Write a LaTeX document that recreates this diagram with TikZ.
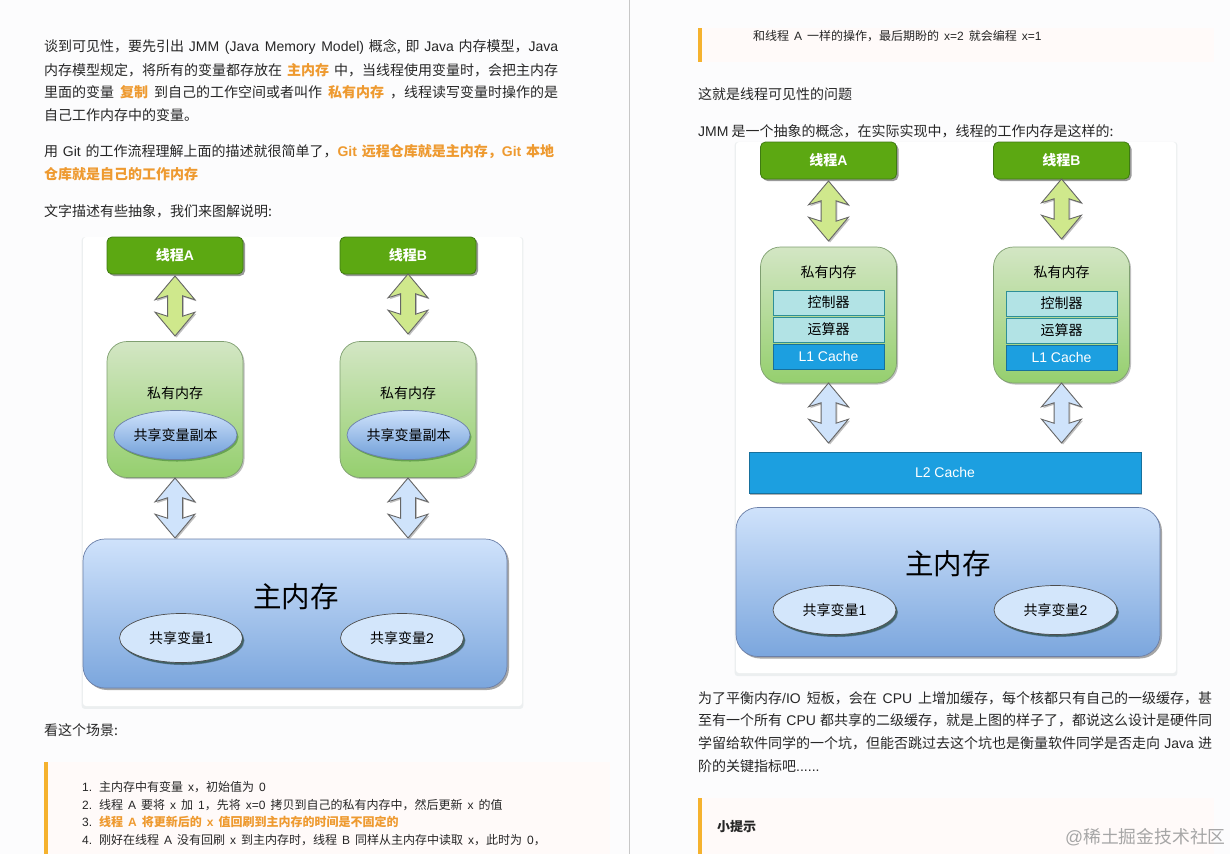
\documentclass[tikz,border=0pt]{standalone}
\usepackage{fontspec}
\setmainfont{Noto Sans CJK SC}
\newfontfamily\latfont{Liberation Sans}
\usetikzlibrary{calc, positioning}
\usetikzlibrary{shapes.geometric, shapes.arrows, shadows}
\definecolor{pagebg}{HTML}{FCFCFD}
\definecolor{quotebg}{HTML}{FFFAF9}
\definecolor{quotebar}{HTML}{F5B22E}
\definecolor{hlorange}{HTML}{EE9A30}
\definecolor{threadgreen}{HTML}{5CA812}
\definecolor{threadedge}{HTML}{3F7A12}
\definecolor{cachefill}{HTML}{1C9FE0}
\definecolor{cacheedge}{HTML}{17709C}
\definecolor{unitfill}{HTML}{B2E3E5}
\definecolor{unitedge}{HTML}{2E8F97}
\definecolor{privtop}{HTML}{D3E6C4}
\definecolor{privbot}{HTML}{95CF6E}
\definecolor{privedge}{HTML}{7F9F70}
\definecolor{maintop}{HTML}{CFE2FB}
\definecolor{mainbot}{HTML}{7BA6DD}
\definecolor{mainedge}{HTML}{6B7FA8}
\definecolor{copybot}{HTML}{6F9ED8}
\definecolor{varfill}{HTML}{D3E6FB}
\definecolor{arrowgreen}{HTML}{CFE88C}
\definecolor{arrowblue}{HTML}{CFE3FB}
\newcommand\lat[1]{{\latfont #1}}
\newcommand\hl[1]{{\bfseries\color{hlorange}#1}}
\newcommand\jline[1]{\makebox[514pt][s]{#1}}
\newcommand\qword[1]{\spaceskip 5pt\relax #1}
\tikzset{
  % Body text lines
  txt/.style={anchor=west, inner sep=0pt, font=\fontsize{14}{16}\selectfont, text=black!85},
  % Text inside the quote blocks
  qtxt/.style={txt, font=\fontsize{12}{14}\selectfont},
  % Thread box
  tbox/.style={draw=threadedge, fill=threadgreen, rounded corners=5pt, line width=.8pt,
    minimum width=136pt, minimum height=37pt, inner sep=0pt, text=white,
    font=\fontsize{14}{16}\selectfont\bfseries,
    drop shadow={shadow xshift=2pt, shadow yshift=-2pt, opacity=.4, fill=black}},
  % Private memory box
  pbox/.style={draw=privedge, top color=privtop, bottom color=privbot,
    rounded corners=20pt, line width=.7pt, minimum width=136pt, minimum height=136pt, inner sep=0pt,
    drop shadow={shadow xshift=1.5pt, shadow yshift=-1.5pt, opacity=.25, fill=black}},
  % Main memory box
  mbox/.style={draw=mainedge, top color=maintop, bottom color=mainbot,
    rounded corners=22pt, line width=.7pt, minimum width=424pt, minimum height=149pt, inner sep=0pt,
    drop shadow={shadow xshift=2pt, shadow yshift=-2pt, opacity=.35, fill=black}},
  % Shared variables
  cvar/.style={ellipse, draw=mainedge, top color=maintop, bottom color=copybot,
    minimum width=123pt, minimum height=49pt, inner sep=0pt, line width=.7pt, font=\fontsize{14}{16}\selectfont,
    drop shadow={shadow xshift=1.5pt, shadow yshift=-2pt, opacity=.35, fill=green!30!black}},
  mvar/.style={cvar, draw=black!70, top color=varfill, bottom color=varfill,
    drop shadow={shadow xshift=2pt, shadow yshift=-2.5pt, opacity=.3, fill=black}},
  % Double block arrows
  darrow/.style={double arrow, rotate=90, draw=black!60, line width=.9pt, minimum height=60pt, minimum width=39pt, inner sep=7pt,
    double arrow head extend=12.5pt, double arrow tip angle=80, double arrow head indent=4pt,
    drop shadow={shadow xshift=1.5pt, shadow yshift=-1.5pt, opacity=.25, fill=black}},
  garrow/.style={darrow, fill=arrowgreen},
  barrow/.style={darrow, fill=arrowblue},
  % Units in the private memory box
  unit/.style={draw=unitedge, fill=unitfill, line width=.8pt, minimum width=111pt, minimum height=25pt, inner sep=0pt,
    font=\fontsize{14}{16}\selectfont},
  cache/.style={draw=cacheedge, fill=cachefill, text=white, line width=.8pt, inner sep=0pt, font=\fontsize{14}{16}\selectfont\latfont},
  % White picture panel
  panel/.style={fill=white, rounded corners=3pt, drop shadow={shadow scale=1.006, shadow xshift=0pt, shadow yshift=-1.5pt, opacity=.2, fill=teal!30!gray!50}},
}

\begin{document}
\begin{tikzpicture}[x=1pt, y=-1pt]
  \useasboundingbox (0,0) rectangle (1230,854);
  \fill[pagebg] (0,0) rectangle (1230,854);
  \draw[black!22, line width=1pt] (629.5,0) -- (629.5,854);

  % left page text
  \node[txt] (intro1) at (44,47) {\jline{谈到可见性，要先引出 \lat{JMM (Java Memory Model)} 概念, 即 \lat{Java} 内存模型，\lat{Java}}};
  \node[txt] (intro2) at (44,70) {\jline{内存模型规定，将所有的变量都存放在 \hl{主内存} 中，当线程使用变量时，会把主内存}};
  \node[txt] (intro3) at (44,92) {\jline{里面的变量 \hl{复制} 到自己的工作空间或者叫作 \hl{私有内存} ，线程读写变量时操作的是}};
  \node[txt] (intro4) at (44,115) {自己工作内存中的变量。};
  \node[txt] (git1) at (44,152) {\makebox[510pt][s]{用 \lat{Git} 的工作流程理解上面的描述就很简单了，\hl{\lat{Git} 远程仓库就是主内存，\lat{Git} 本地}}};
  \node[txt] (git2) at (44,174) {\hl{仓库就是自己的工作内存}};
  \node[txt] (draw1) at (44,211) {文字描述有些抽象，我们来图解说明:};
  \node[txt] (scene) at (44,730) {看这个场景:};

  % left quote block
  \fill[quotebg] (47,762) rectangle (610,854);
  \fill[quotebar] (44,762) rectangle (47.5,854);
  \node[qtxt] (n1) at (82,787) {\lat{1.}};
  \node[qtxt] (n2) at (82,805) {\lat{2.}};
  \node[qtxt] (n3) at (82,822) {\lat{3.}};
  \node[qtxt] (n4) at (82,840) {\lat{4.}};
  \node[qtxt] (item1) at (99,787) {\qword{主内存中有变量 \lat{x}，初始值为 \lat{0}}};
  \node[qtxt] (item2) at (99,805) {\qword{线程 \lat{A} 要将 \lat{x} 加 \lat{1}，先将 \lat{x=0} 拷贝到自己的私有内存中，然后更新 \lat{x} 的值}};
  \node[qtxt] (item3) at (99,822) {\qword{\hl{线程 \lat{A} 将更新后的 \lat{x} 值回刷到主内存的时间是不固定的}}};
  \node[qtxt] (item4) at (99,840) {\qword{刚好在线程 \lat{A} 没有回刷 \lat{x} 到主内存时，线程 \lat{B} 同样从主内存中读取 \lat{x}，此时为 \lat{0}，}};

  % right page text
  \fill[quotebg] (701,28) rectangle (1214,62);
  \fill[quotebar] (698,28) rectangle (701.5,62);
  \node[qtxt] (tail) at (753,36) {\qword{和线程 \lat{A} 一样的操作，最后期盼的 \lat{x=2} 就会编程 \lat{x=1}}};
  \node[txt] (issue) at (698,94) {这就是线程可见性的问题};
  \node[txt] (jmm) at (698,131) {\lat{JMM} 是一个抽象的概念，在实际实现中，线程的工作内存是这样的:};
  \node[txt] (cpu1) at (698,698) {\jline{为了平衡内存\lat{/IO} 短板，会在 \lat{CPU} 上增加缓存，每个核都只有自己的一级缓存，甚}};
  \node[txt] (cpu2) at (698,720) {\jline{至有一个所有 \lat{CPU} 都共享的二级缓存，就是上图的样子了，都说这么设计是硬件同}};
  \node[txt] (cpu3) at (698,743) {\jline{学留给软件同学的一个坑，但能否跳过去这个坑也是衡量软件同学是否走向 \lat{Java} 进}};
  \node[txt] (cpu4) at (698,766) {阶的关键指标吧\lat{......}};
  \fill[quotebg] (701,798) rectangle (1214,854);
  \fill[quotebar] (698,798) rectangle (701.5,854);
  \node[txt, font=\fontsize{13}{15}\selectfont\bfseries] (tip) at (717,827) {小提示};
  \node[txt, font=\fontsize{17.8}{20}\selectfont, text=black!35] (mark) at (1065,837) {\lat{@}稀土掘金技术社区};

  % left picture
  \node[panel, minimum width=439pt, minimum height=469pt] (panelL) at (302.5,471.5) {};
  \foreach \tx/\ty/\tname in {175/276/A, 408/274/B} {
    \node[tbox] (thread\tname) at (\tx,255.5) {线程\lat{\tname}};
    \node[garrow] (up\tname) at (\tx,\ty+30) {};
    \node[pbox] (priv\tname) at (\tx,409.5) {};
    \node[font=\fontsize{14}{16}\selectfont] (privtxt\tname) at (\tx,393) {私有内存};
    \node[cvar] (copy\tname) at (\tx+.5,435) {共享变量副本};
    \node[barrow] (down\tname) at (\tx,508) {};
  }
  \node[mbox] (mainL) at (295,613.5) {};
  \node[font=\fontsize{28.5}{32}\selectfont] (maintxtL) at (296,597) {主内存};
  \node[mvar] (varL1) at (181,638) {共享变量\lat{1}};
  \node[mvar] (varL2) at (402,638) {共享变量\lat{2}};

  % right picture
  \node[panel, minimum width=440pt, minimum height=531pt] (panelR) at (956,407.5) {};
  \foreach \tx/\ty/\uy/\tname/\tlabel in {828.5/181/0/C/A, 1061.5/179/1/D/B} {
    \node[tbox] (thread\tname) at (\tx,160.5) {线程\lat{\tlabel}};
    \node[garrow] (up\tname) at (\tx,\ty+30) {};
    \node[pbox] (priv\tname) at (\tx,315) {};
    \node[font=\fontsize{14}{16}\selectfont] (privtxt\tname) at (\tx,272) {私有内存};
    \node[unit] (ctrl\tname) at (\tx,302.5+\uy) {控制器};
    \node[unit] (alu\tname) at (\tx,329.5+\uy) {运算器};
    \node[cache, minimum width=111pt, minimum height=25pt] (lone\tname) at (\tx,356.5+\uy) {L1 Cache};
    \node[barrow] (down\tname) at (\tx,413) {};
  }
  \node[cache, minimum width=392pt, minimum height=41pt, drop shadow={shadow xshift=1pt, shadow yshift=-1.5pt, opacity=.3, fill=black}] (ltwo) at (945,472.5) {L2 Cache};
  \node[mbox] (mainR) at (948,582) {};
  \node[font=\fontsize{28.5}{32}\selectfont] (maintxtR) at (948,564) {主内存};
  \node[mvar] (varR1) at (834.5,610) {共享变量\lat{1}};
  \node[mvar] (varR2) at (1055.5,610) {共享变量\lat{2}};
\end{tikzpicture}
\end{document}
